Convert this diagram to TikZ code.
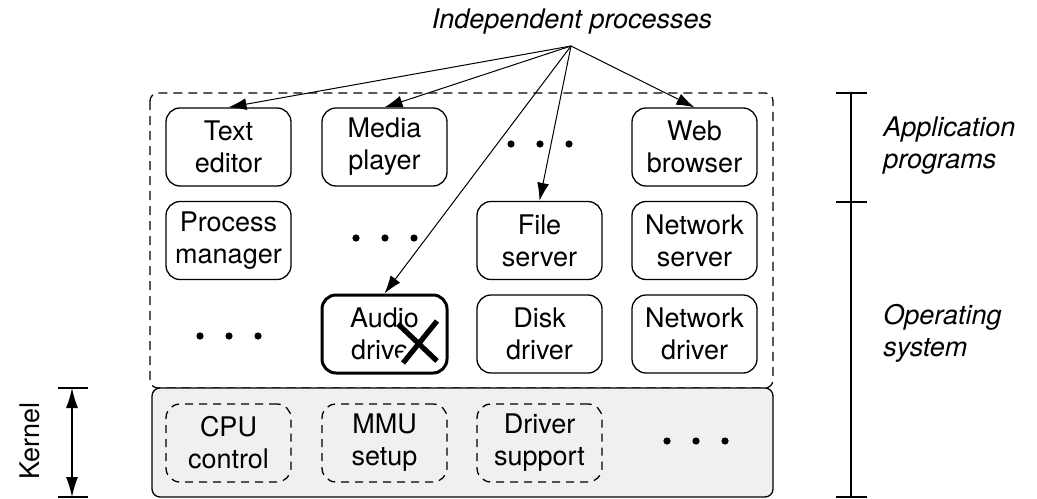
\documentclass[tikz,border=0pt]{standalone}
\usepackage{fontspec}
\setmainfont{TeX Gyre Heros}
\usepackage{tikz}
\usetikzlibrary{positioning}
\usetikzlibrary{arrows.meta}

\tikzset{
  txt/.style={font=\fontsize{13.5}{16}\selectfont, align=center, inner sep=0pt},
  proc/.style={txt, draw, line width=0.65pt, rounded corners=7pt, minimum width=62.5pt, minimum height=39pt},
  kproc/.style={proc, dash pattern=on 4pt off 3pt},
  lbl/.style={txt, font=\fontsize{13.5}{16}\selectfont\itshape},
  fan/.style={-{Latex[length=9pt,width=6pt]}, line width=0.5pt},
}

\begin{document}
\begin{tikzpicture}[x=0.5pt, y=-0.5pt]

% Set the size of the figure
\useasboundingbox (0,0) rectangle (1037,498);

% Operating system area and kernel
\draw[line width=0.65pt, dash pattern=on 4.5pt off 3pt, rounded corners=4pt] (150,93) rectangle (773,388);
\draw[line width=0.65pt, fill=black!6, rounded corners=4pt] (152,388) rectangle (773,497);

% Rows of processes
\node[proc] (texted) at (228.5,147) {Text\\editor};
\node[proc] (media) at (384.5,147) {Media\\player};
\node[proc] (web) at (694.5,147) {Web\\browser};
\node[proc] (procman) at (228.5,240.5) {Process\\manager};
\node[proc] (filesrv) at (539.5,240.5) {File\\server};
\node[proc] (netsrv) at (694.5,240.5) {Network\\server};
\node[proc, line width=1.5pt] (audio) at (384.5,334) {Audio\\driver};
\node[proc] (disk) at (539.5,334) {Disk\\driver};
\node[proc] (netdrv) at (694.5,334) {Network\\driver};
\node[kproc] (cpu) at (228.5,443) {CPU\\control};
\node[kproc] (mmu) at (384.5,443) {MMU\\setup};
\node[kproc] (drvsup) at (539.5,443) {Driver\\support};

% The crashed driver
\begin{scope}
  \clip (395,338) rectangle (445,368);
  \draw[white, line width=7pt] (403,363) -- (437,321) (398,324) -- (437,361);
\end{scope}
\draw[line width=2.6pt] (403,363) -- (437,321) (398,324) -- (437,361);

% Dots
\foreach \cx/\cy in {540/144, 385/238, 229/336, 696/441}
  \foreach \dx in {-29,0,29}
    \fill (\cx+\dx,\cy) circle (3.6);

% Independent processes
\node[lbl] (indep) at (572,22) {Independent processes};
\coordinate (src) at (571,46);
\draw[fan] (src) -- (texted.north);
\draw[fan] (src) -- (media.north);
\draw[fan] (src) -- (audio.north);
\draw[fan] (src) -- (filesrv.north);
\draw[fan] (src) -- (web.north);

% Kernel extent
\coordinate (ktop) at (72,388);
\coordinate (kbot) at (72,497);
\draw[line width=0.6pt] (58,388) -- (88,388) (58,497) -- (88,497);
\draw[{Latex[length=10pt,width=6pt]}-{Latex[length=10pt,width=6pt]}, line width=0.6pt] (ktop) -- (kbot);
\node[txt, rotate=90] (kernel) at (30,441) {Kernel};

% Layers on the right
\coordinate (btop) at (851,93);
\coordinate (bmid) at (851,202);
\coordinate (bbot) at (851,497);
\draw[line width=0.6pt] (btop) -- (bbot);
\draw[line width=0.6pt] (836,93) -- (867,93) (836,202) -- (867,202) (836,497) -- (867,497);
\node[lbl, anchor=west, align=left] (apps) at (883,146) {Application\\programs};
\node[lbl, anchor=west, align=left] (os) at (883,333) {Operating\\system};

\end{tikzpicture}
\end{document}
